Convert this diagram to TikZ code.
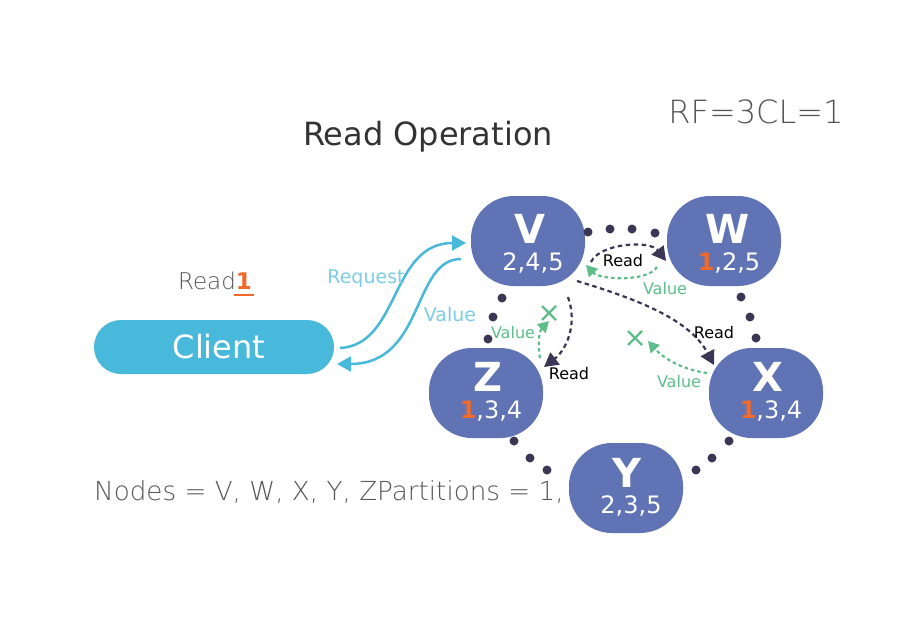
\documentclass[tikz,border=0pt]{standalone}
\usepackage{fontspec}
\setmainfont{DejaVu Sans}
\newfontfamily\lightfont{DejaVu Sans ExtraLight}
\usetikzlibrary{arrows.meta,calc}
\definecolor{nodeblue}{HTML}{5F73B5}
\definecolor{clientblue}{HTML}{48B8DB}
\definecolor{lightblue}{HTML}{7ECDE6}
\definecolor{darknavy}{HTML}{3B3654}
\definecolor{greenv}{HTML}{5DBE8A}
\definecolor{orangeh}{HTML}{F26A2A}
\definecolor{titlegray}{HTML}{333333}
\definecolor{midgray}{HTML}{555555}
\newcommand\fsz[1]{\fontsize{#1}{#1}\selectfont}
\tikzset{
  nodebox/.style={fill=nodeblue, draw=none, rounded corners=43pt, minimum width=114pt, minimum height=90pt, inner sep=0pt},
  clientbox/.style={fill=clientblue, draw=none, rounded corners=27pt, minimum width=240pt, minimum height=54pt, inner sep=0pt},
  lett/.style={anchor=base, text=white, font=\fsz{40}\bfseries, inner sep=0pt},
  nums/.style={anchor=base, text=white, font=\fsz{24}, inner sep=0pt},
  dotc/.style={circle, fill=darknavy, minimum size=9pt, inner sep=0pt},
  lbl/.style={anchor=base, inner sep=0pt},
  readarr/.style={draw=darknavy, line width=2.2pt, dash pattern=on 4.5pt off 3.5pt, -{Triangle[length=14pt,width=15pt]}},
  valarr/.style={draw=greenv, line width=2.2pt, dash pattern=on 3.5pt off 3pt, -{Triangle[length=11pt,width=12pt]}},
  blarr/.style={draw=clientblue, line width=2.5pt, -{Triangle[length=14pt,width=15pt]}},
  xmark/.style={draw=greenv, line width=2.2pt},
}
\begin{document}
\begin{tikzpicture}[x=1pt,y=-1pt]
\useasboundingbox (0,0) rectangle (919,624);
\fill[white] (0,0) rectangle (919,624);

% titles
\node[lbl, text=titlegray, font=\fsz{32}] (title) at (428,145) {Read Operation};
\node[lbl, text=midgray, font=\fsz{32}\lightfont] (rf) at (756,123) {RF=3CL=1};
\node[lbl, text=midgray, font=\fsz{23}\lightfont] (read1) at (215,289) {Read{\color{orangeh}\normalfont\bfseries 1}};
\draw[orangeh, line width=2pt] (234,295) coordinate (ul1) -- (254,295) coordinate (ul2);
\node[lbl, anchor=base west, text=midgray, font=\fsz{26.2}\lightfont] (nodesline) at (94,500) {Nodes = V, W, X, Y, ZPartitions = 1,};

% client
\node[clientbox] (client) at (214,347) {};
\node[lbl, text=white, font=\fsz{32}] (clientt) at (219,358) {Client};

% nodes
\node[nodebox] (V) at (528,241) {};
\node[nodebox] (W) at (724,241) {};
\node[nodebox] (Z) at (486,393) {};
\node[nodebox] (X) at (766,393) {};
\node[nodebox] (Y) at (626,488) {};

\node[lett] (Vl) at (530,243) {V};
\node[nums] (Vn) at (533,270) {2,4,5};
\node[lett] (Wl) at (728,243) {W};
\node[nums] (Wn) at (729,270) {{\color{orangeh}\bfseries 1},2,5};
\node[lett] (Zl) at (488,391) {Z};
\node[nums] (Zn) at (491,418) {{\color{orangeh}\bfseries 1},3,4};
\node[lett] (Xl) at (768,391) {X};
\node[nums] (Xn) at (771,418) {{\color{orangeh}\bfseries 1},3,4};
\node[lett] (Yl) at (627,487) {Y};
\node[nums] (Yn) at (631,513) {2,3,5};

% dots
\foreach \p [count=\i] in {(588,232),(610,229),(632,229),(655,233),
  (502,298),(493,317),(488,339),
  (514,441),(530,458),(547,470),
  (696,470),(712,458),(729,441),
  (741,297),(750,317),(756,338)}
  \node[dotc] (d\i) at \p {};

% client arrows
\coordinate (reqs) at (340,348);
\coordinate (reqe) at (466,243);
\coordinate (vals) at (461,259);
\coordinate (vale) at (337,364);
\draw[blarr] (reqs) .. controls (400,345) and (390,243) .. (reqe);
\draw[blarr] (vals) .. controls (412,259) and (425,364) .. (vale);
\node[lbl, text=lightblue, font=\fsz{19}] (reqlbl) at (366,283) {Request};
\node[lbl, text=lightblue, font=\fsz{19}] (vallbl) at (450,321) {Value};

% V -> W
\coordinate (vw1) at (591,262);
\coordinate (vw2) at (666,261);
\draw[readarr] (vw1) .. controls (600,243) and (650,240) .. (vw2);
\coordinate (wv1) at (657,267);
\coordinate (wv2) at (586,265);
\draw[valarr] (wv1) .. controls (648,282) and (600,280) .. (wv2);
\node[lbl, font=\fsz{16}] (rvw) at (623,266) {Read};
\node[lbl, text=greenv, font=\fsz{16}] (vwv) at (665,294) {Value};

% V -> Z
\coordinate (vz1) at (568,297);
\coordinate (vz2) at (544,367);
\draw[readarr] (vz1) .. controls (578,325) and (566,350) .. (vz2);
\coordinate (zv1) at (540,358);
\coordinate (zv2) at (549,321);
\draw[valarr] (zv1) .. controls (537,342) and (540,330) .. (zv2);
\node[lbl, font=\fsz{16}] (rvz) at (569,379) {Read};
\node[lbl, text=greenv, font=\fsz{16}] (vzv) at (513,338) {Value};
\coordinate (xm1) at (549,313);
\draw[xmark] ($(xm1)+(-7,-7)$) -- ($(xm1)+(7,7)$) ($(xm1)+(-7,7)$) -- ($(xm1)+(7,-7)$);

% V -> X
\coordinate (vx1) at (577,281);
\coordinate (vx2) at (714,365);
\draw[readarr] (vx1) .. controls (640,300) and (690,320) .. (vx2);
\coordinate (xv1) at (707,373);
\coordinate (xv2) at (648,341);
\draw[valarr] (xv1) .. controls (685,370) and (665,360) .. (xv2);
\node[lbl, font=\fsz{16}] (rvx) at (714,338) {Read};
\node[lbl, text=greenv, font=\fsz{16}] (vxv) at (679,387) {Value};
\coordinate (xm2) at (635,338);
\draw[xmark] ($(xm2)+(-7,-7)$) -- ($(xm2)+(7,7)$) ($(xm2)+(-7,7)$) -- ($(xm2)+(7,-7)$);
\end{tikzpicture}
\end{document}
